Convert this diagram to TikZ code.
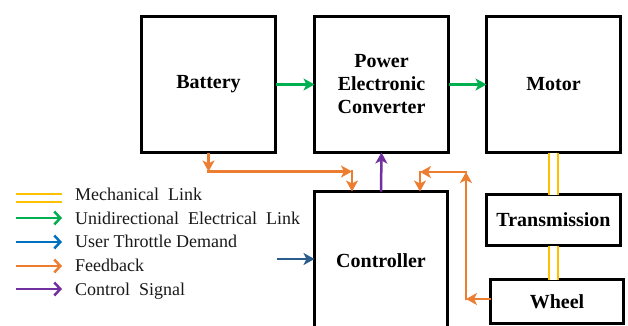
\documentclass[tikz,border=0pt]{standalone}
\usepackage{fontspec}
\setmainfont{Liberation Serif}[BoldFont={Liberation Serif Bold}]
\usetikzlibrary{arrows.meta}
\definecolor{cgreen}{HTML}{00B050}
\definecolor{corange}{HTML}{ED7D31}
\definecolor{cblue}{HTML}{0070C0}
\definecolor{cnavy}{HTML}{2A5C8C}
\definecolor{cpurple}{HTML}{7030A0}
\definecolor{cyellow}{HTML}{FFC000}
\tikzset{
  blk/.style={draw=black, line width=3pt, inner sep=0pt, outer sep=0pt, align=center,
    font=\bfseries\fontsize{20}{23}\selectfont},
  conn/.style={line width=2.5pt, -{Stealth[length=11pt,width=12pt,inset=3pt]}},
  elec/.style={conn, draw=cgreen},
  fb/.style={conn, draw=corange},
  ctrl/.style={conn, draw=cpurple},
  throttle/.style={conn, draw=cnavy},
  mech/.style={draw=cyellow, line width=2pt, double=white, double distance=7.5pt},
  legarrow/.style={line width=2.5pt, -{Straight Barb[length=6pt,width=13pt]}},
  legtext/.style={anchor=base west, inner sep=0pt, font=\fontsize{18}{21}\selectfont, text=black!90}
}
\begin{document}
\begin{tikzpicture}[x=1pt,y=-1pt]
\useasboundingbox (0,0) rectangle (628,325);
\clip (0,0) rectangle (628,325);
\fill[white] (0,0) rectangle (628,325);

% blocks
\node[blk, minimum width=134pt, minimum height=136pt] (battery) at (208.5,84.5) {Battery};
\node[blk, minimum width=134pt, minimum height=136pt] (pec) at (381.5,84.5) {Power\\Electronic\\Converter};
\node[blk, minimum width=134pt, minimum height=136pt] (motor) at (553.5,84.5) {Motor};
\node[blk, minimum width=133pt, minimum height=139pt] (controller) at (381,261) {Controller};
\node[blk, minimum width=134pt, minimum height=51pt] (trans) at (553.5,220) {Transmission};
\node[blk, minimum width=133pt, minimum height=44pt] (wheel) at (557,301.5) {Wheel};

% electrical links
\draw[elec] (battery.east) -- (pec.west);
\draw[elec] (pec.east) -- (motor.west);

% mechanical links
\draw[mech] (motor.south) -- (trans.north);
\draw[mech] (trans.south) -- (trans.south |- wheel.north);

% control signal
\draw[ctrl] (controller.north) -- (pec.south);

% feedback from battery
\coordinate (fa1) at (208.5,171.5);
\coordinate (fa2) at (352,171.5);
\draw[fb] (battery.south) -- (fa1);
\draw[fb] ([xshift=-1.25pt]fa1) -- (fa2);
\draw[fb] ([yshift=1.25pt]fa2) -- (fa2 |- controller.north);

% feedback from wheel
\coordinate (fw1) at (466,299);
\coordinate (fw2) at (466,172);
\coordinate (fw3) at (420,172);
\draw[fb] (wheel.west |- fw1) -- (fw1);
\draw[fb] ([yshift=-1.25pt]fw1) -- (fw2);
\draw[fb] ([xshift=1.25pt]fw2) -- (fw3);
\draw[fb] ([yshift=1.25pt]fw3) -- (fw3 |- controller.north);

% user throttle demand
\coordinate (thr) at (277,259);
\draw[throttle] (thr) -- (thr -| controller.west);

% legend
\coordinate (l1a) at (16,198); \coordinate (l1b) at (62,198);
\draw[draw=cyellow, line width=2.2pt, double=white, double distance=6pt] (l1a) -- (l1b);
\coordinate (l2a) at (16,218); \coordinate (l2b) at (62,218);
\draw[legarrow, draw=cgreen] (l2a) -- (l2b);
\coordinate (l3a) at (16,242); \coordinate (l3b) at (62,242);
\draw[legarrow, draw=cblue] (l3a) -- (l3b);
\coordinate (l4a) at (16,266); \coordinate (l4b) at (62,266);
\draw[legarrow, draw=corange] (l4a) -- (l4b);
\coordinate (l5a) at (16,289); \coordinate (l5b) at (62,289);
\draw[legarrow, draw=cpurple] (l5a) -- (l5b);

\node[legtext] (t1) at (75,200.5) {Mechanical\ \ Link};
\node[legtext] (t2) at (75,224) {Unidirectional\ \ Electrical\ \ Link};
\node[legtext] (t3) at (75,247.5) {User Throttle Demand};
\node[legtext] (t4) at (75,271) {Feedback};
\node[legtext] (t5) at (75,295) {Control\ \ Signal};
\end{tikzpicture}
\end{document}
